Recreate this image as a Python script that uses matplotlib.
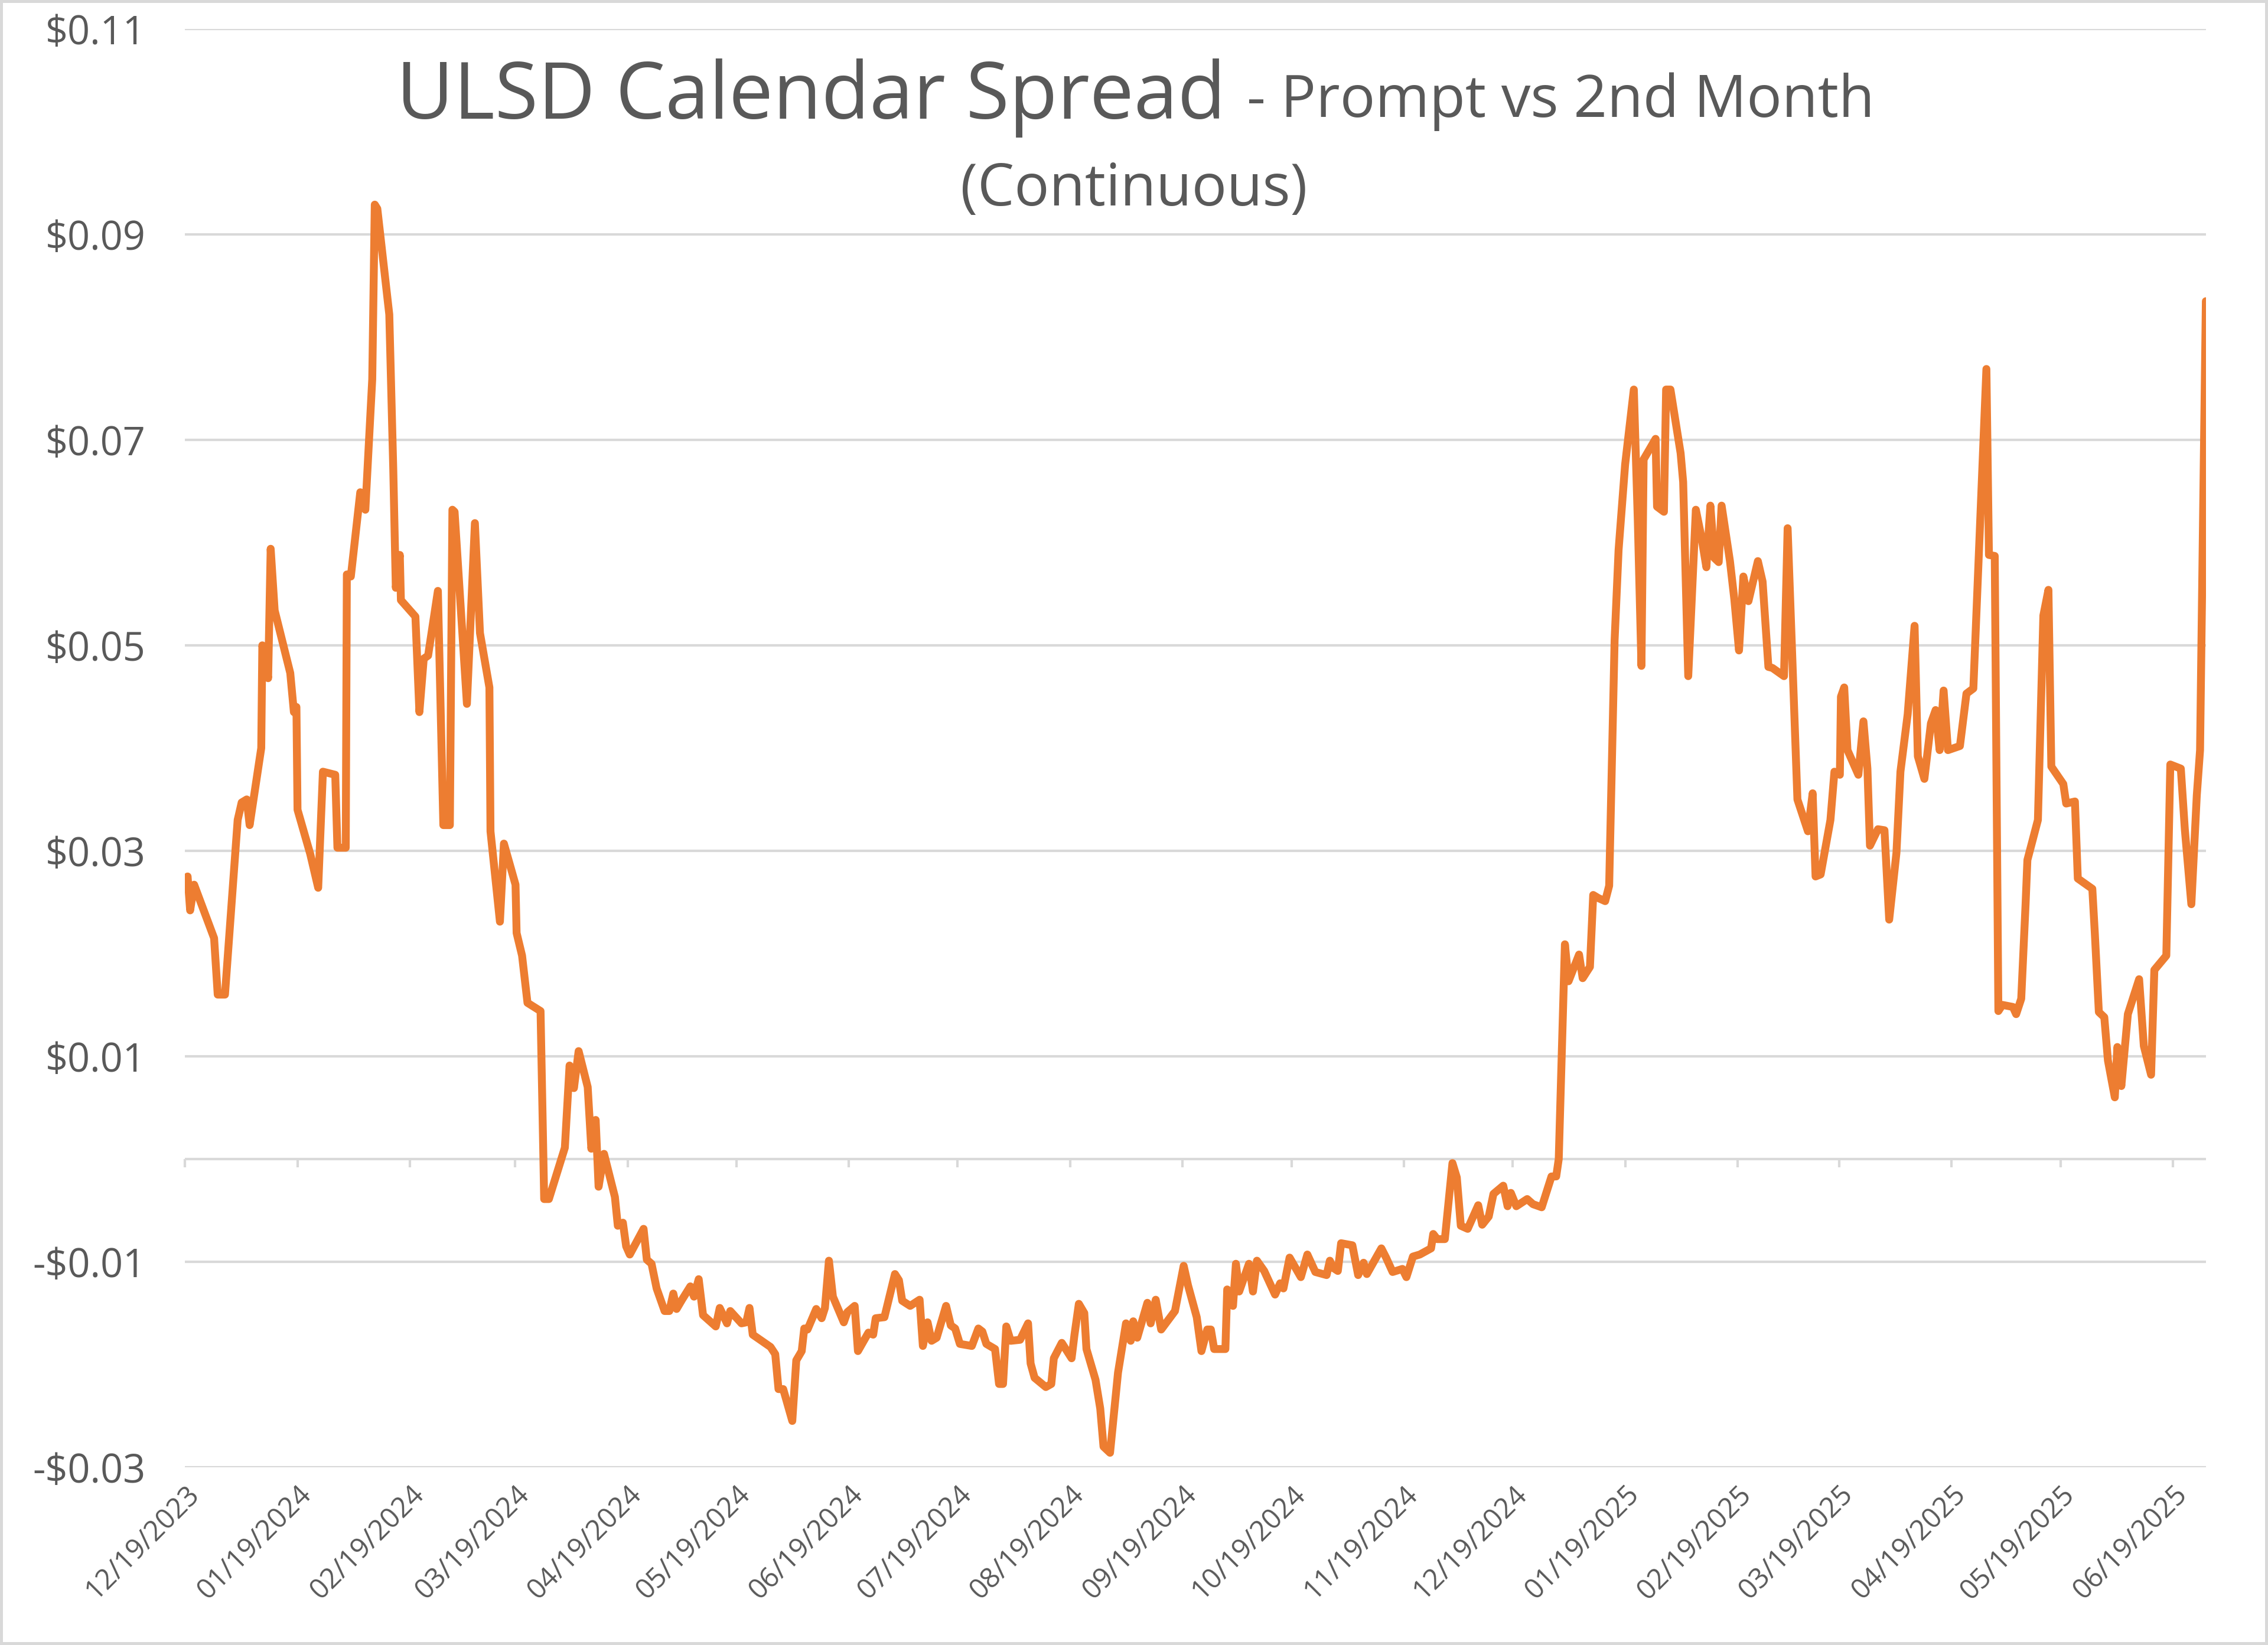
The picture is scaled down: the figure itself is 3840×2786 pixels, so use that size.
import numpy as np
import matplotlib
matplotlib.use('Agg')
import matplotlib.pyplot as plt
import matplotlib.dates as mdates
from matplotlib.markers import TICKDOWN

# ULSD calendar spread, prompt vs 2nd month (continuous)
start_date = '2023-12-19'

# day offsets from start_date, and spread in $/gal
day_offset = [
    0.7, 1.4, 2.5, 8, 9, 11, 14.5, 15.6, 17, 17.8, 21, 21.3, 22.9, 23.6, 24.7,
    29, 30, 30.7, 31, 34.5, 36.7, 38, 41.4, 42, 44.3, 44.6, 45.7, 48.3, 49.7,
    51.6, 52.3, 53, 56.3, 57.4, 58.1, 59.2, 59.5, 63.5, 64.6, 65.8, 67, 69.7,
    71.2, 73, 73.7, 74.3, 77.7, 79.9, 81.3, 83.9, 84.2, 86.8, 87.9, 91.1, 91.4,
    92.9, 94.4, 98,
    99, 100.3, 104.7, 106, 107.2, 108.5, 111, 112, 113.2, 114, 115.5, 118.5,
    119.3, 120.7, 121.6, 122.6, 126.4, 127.3, 128.6, 130, 132.2, 133.5, 134.6,
    135.5, 137, 139.3, 140.3, 141.6, 142.8, 146.3, 147.4, 149.4, 150.3, 153.4,
    154.7, 155.6, 156.5, 161.4, 162.7, 163.6, 164.9, 167.4, 168.5, 170, 170.7,
    171.6, 174, 175.5, 176.4, 177.5, 178.6, 181.6, 182.6, 184.6, 185.5, 188.4,
    189.7, 190.4, 192.8, 195.7, 196.8, 197.7, 199.9, 202.5, 203.4, 204.7,
    205.8, 207.2, 209.8, 211.1, 212.3, 213.6, 216.9, 218.7, 219.8, 220.9,
    223.3, 224.4, 225.5,
    226.4, 227.6, 230.2, 232.4, 233.1, 234.2, 237.3, 238.8, 239.5, 241.7,
    244.4, 245.2, 246.4, 247.9, 248.5, 251, 252.3, 253.2, 255, 257.2, 259.4,
    260.7, 261.4, 262.5, 265.3, 266.2, 267.6, 269.1, 272.9, 275.3, 276.5,
    278.9, 280.2, 281.8, 282.8, 283.7, 286.8, 287.3, 288.9, 289.7, 290.6,
    293.3, 294.4, 295.5, 297.5, 300.5, 301.9, 302.8, 304.5, 307.6, 309.4,
    311.6, 314.7, 315.6, 316.5, 317.8, 318.7, 321.8, 323.4, 324.9, 325.8,
    329.8, 331.1, 332.9, 335.6, 336.7, 338.5, 340.4, 343.5, 344.1, 345.2,
    347.3, 349.4, 350.6, 351.7, 353.6, 356.5, 357.6, 359.4, 360.7, 363.4,
    364.6, 365.5, 367, 370, 371.6, 374, 376.7, 378, 378.7, 380.4, 381.4,
    384.3, 385.3, 387.3, 388.2, 389.6, 391.5, 392.6,
    394.1, 395.2, 397, 399.4, 400.5, 401.5, 402.1, 405.4, 405.8, 407.7, 408.3,
    409.5, 412.3, 413, 414.4, 416.5, 418.1, 419.4, 420.5, 421.6, 422.8, 423.6,
    425.9, 427.1, 428.4, 429.6, 431, 433.6, 434.9, 436.5, 437.6, 440.8, 441.8,
    444.5,
    447.4, 448.7, 449.5, 450.9, 453.6, 454.7, 456.2, 456.5, 457.4, 458.3,
    461.3, 462.7, 463.8, 464.5, 466.7, 468.5, 469.8, 471.8, 472.9, 474.9,
    476.8, 477.7, 479.5, 481.3, 482.6, 483.7, 484.8, 486, 489.3, 491.1, 493,
    496.6, 497.3, 498.9, 499.9, 501, 503.9, 504.8, 506.2, 507.4, 507.9, 510.8,
    512.3, 513.7, 514.5, 517.8, 518.6, 521, 521.8, 525.8, 526.5, 527.6, 529.1,
    530.1, 532, 532.7, 533.8, 535.6, 538.7, 540, 542, 542.9, 546.2, 547.3,
    550.2, 551.3, 553.1, 554.6, 555.5, 557.1,
]

spread = [
    0.0275, 0.0242, 0.0267, 0.0215, 0.016, 0.016, 0.033, 0.0347, 0.035, 0.0325,
    0.040, 0.050, 0.0468, 0.0594, 0.0534, 0.0473, 0.0435, 0.044, 0.034, 0.0297,
    0.0264, 0.0377, 0.0374, 0.0303, 0.0303, 0.0569, 0.0567, 0.0649, 0.0632,
    0.0759, 0.0929, 0.0925, 0.0822, 0.0671, 0.0556, 0.0588, 0.0544, 0.0528,
    0.0435, 0.0487, 0.049, 0.0553, 0.0325, 0.0325, 0.0632, 0.063, 0.0443,
    0.0619, 0.0512, 0.0459, 0.0319, 0.0231, 0.0307, 0.0267, 0.022, 0.0198,
    0.0152, 0.0144,
    -0.0039, -0.0039, 0.0011, 0.0091, 0.0069, 0.0105, 0.0070, 0.0010, 0.0038,
    -0.0027, 0.0005, -0.0037, -0.0065, -0.0062, -0.0085, -0.0093, -0.0068,
    -0.0098, -0.0102, -0.0126, -0.0148, -0.0148, -0.0131, -0.0146, -0.0137,
    -0.0124, -0.0134, -0.0117, -0.0152, -0.0163, -0.0145, -0.0160, -0.0148,
    -0.0160, -0.0159, -0.0145, -0.0171, -0.0183, -0.0190, -0.0224, -0.0224,
    -0.0255, -0.0196, -0.0187, -0.0165, -0.0166, -0.0146, -0.0155, -0.0145,
    -0.0099, -0.0134, -0.0159, -0.0149, -0.0143, -0.0187, -0.0169, -0.0171,
    -0.0155, -0.0154, -0.0112, -0.0118, -0.0138, -0.0143, -0.0137, -0.0182,
    -0.0159, -0.0177, -0.0174, -0.0143, -0.0162, -0.0165, -0.0180, -0.0182,
    -0.0165, -0.0168, -0.0180, -0.0185, -0.0219, -0.0219,
    -0.0163, -0.0177, -0.0176, -0.0160, -0.0199, -0.0213, -0.0222, -0.0219,
    -0.0194, -0.0179, -0.0194, -0.0171, -0.0141, -0.0150, -0.0185, -0.0215,
    -0.0243, -0.0280, -0.0286, -0.0208, -0.0160, -0.0177, -0.0158, -0.0174,
    -0.0140, -0.0160, -0.0137, -0.0166, -0.0148, -0.0104, -0.0123, -0.0154,
    -0.0187, -0.0166, -0.0166, -0.0185, -0.0185, -0.0127, -0.0143, -0.0102,
    -0.0129, -0.0102, -0.0129, -0.0099, -0.0109, -0.0132, -0.0121, -0.0126,
    -0.0096, -0.0115, -0.0093, -0.0110, -0.0113, -0.0099, -0.0106, -0.0109,
    -0.0082, -0.0084, -0.0113, -0.0101, -0.0112, -0.0087, -0.0096, -0.0110,
    -0.0107, -0.0115, -0.0095, -0.0093, -0.0087, -0.0073, -0.0078, -0.0078,
    -0.0004, -0.0018, -0.0065, -0.0068, -0.0045, -0.0064, -0.0056, -0.0034,
    -0.0026, -0.0046, -0.0033, -0.0046, -0.0039, -0.0044, -0.0047, -0.0017,
    -0.0017, 0.0000, 0.0209, 0.0173, 0.0199, 0.0176, 0.0187, 0.0257, 0.0254,
    0.0251, 0.0266,
    0.0505, 0.0593, 0.0676, 0.0749, 0.0621, 0.0480, 0.0681, 0.0701, 0.0635,
    0.0630, 0.0749, 0.0749, 0.0687, 0.0659, 0.0470, 0.0632, 0.0604, 0.0576,
    0.0636, 0.0585, 0.0581, 0.0636, 0.0582, 0.0545, 0.0495, 0.0567, 0.0543,
    0.0582, 0.0562, 0.0479, 0.0478, 0.0470, 0.0614, 0.0350,
    0.0319, 0.0356, 0.0275, 0.0277, 0.0330, 0.0377, 0.0374, 0.0450, 0.0459,
    0.0398, 0.0374, 0.0426, 0.0380, 0.0305, 0.0321, 0.0320, 0.0233, 0.0298,
    0.0377, 0.0433, 0.0519, 0.0392, 0.0370, 0.0424, 0.0437, 0.0398, 0.0456,
    0.0398, 0.0402, 0.0453, 0.0458, 0.0769, 0.0588, 0.0587, 0.0144, 0.0150,
    0.0148, 0.0141, 0.0156, 0.0248, 0.0291, 0.0330, 0.0529, 0.0554, 0.0382,
    0.0365, 0.0346, 0.0348, 0.0273, 0.0263, 0.0219, 0.0143, 0.0138, 0.0096,
    0.0060, 0.0109, 0.0071, 0.0141, 0.0175, 0.0110, 0.0082, 0.0184, 0.0198,
    0.0384, 0.0380, 0.0321, 0.0248, 0.0354, 0.0398, 0.0835,
]

y_ticks = [0.11, 0.09, 0.07, 0.05, 0.03, 0.01, -0.01, -0.03]

title_main = 'ULSD Calendar Spread'
title_sub = '- Prompt vs 2nd Month'
title_line2 = '(Continuous)'

orange = '#ED7D31'
grid_col = '#D9D9D9'
text_col = '#595959'

plt.rcParams['font.family'] = ['Open Sans', 'DejaVu Sans']

fig = plt.figure(figsize=(19.2, 13.93), dpi=200)
fig.patch.set_edgecolor(grid_col)
fig.patch.set_linewidth(3)
ax = fig.add_axes([0.0816, 0.1081, 0.891, 0.8743])

x0 = mdates.date2num(np.datetime64(start_date))
x = x0 + np.array(day_offset)
ax.plot(x, spread, color=orange, lw=4.8, solid_joinstyle='round',
        solid_capstyle='round', zorder=3)

ax.set_ylim(-0.03, 0.11)
ax.set_xlim(x0, x[-1])
ax.set_yticks(y_ticks)
ax.yaxis.set_major_formatter(plt.FuncFormatter(
    lambda v, p: ('-$%.2f' % abs(v)) if v < 0 else ('$%.2f' % v)))
ax.grid(axis='y', color=grid_col, lw=1.5)
ax.set_axisbelow(True)

ax.xaxis_date()
ax.xaxis.set_major_locator(mdates.MonthLocator(bymonthday=19))
ax.xaxis.set_major_formatter(mdates.DateFormatter('%m/%d/%Y'))

for s in ax.spines.values():
    s.set_visible(False)
ax.tick_params(axis='y', length=0, pad=24, labelsize=24, labelcolor=text_col)
ax.tick_params(axis='x', length=0, pad=8, labelsize=17, labelcolor=text_col)
for lab in ax.get_xticklabels():
    lab.set_rotation(45)
    lab.set_ha('right')
    lab.set_va('top')
    lab.set_rotation_mode('anchor')

# horizontal axis line at zero with tick marks
ax.axhline(0, color=grid_col, lw=1.5, zorder=1)
ticks = [t for t in ax.get_xticks() if x0 - 0.5 <= t <= x[-1]]
ax.plot(ticks, np.zeros(len(ticks)), ls='none', marker=TICKDOWN, ms=5,
        mew=1.5, color=grid_col, zorder=1, clip_on=False)

fig.text(0.5405, 0.928, title_main, ha='right', va='baseline', fontsize=48,
         color=text_col)
fig.text(0.5497, 0.929, title_sub, ha='left', va='baseline', fontsize=35.7,
         color=text_col)
fig.text(0.5, 0.875, title_line2, ha='center', va='baseline', fontsize=35.5,
         color=text_col)

fig.savefig('out.png', dpi=200)
